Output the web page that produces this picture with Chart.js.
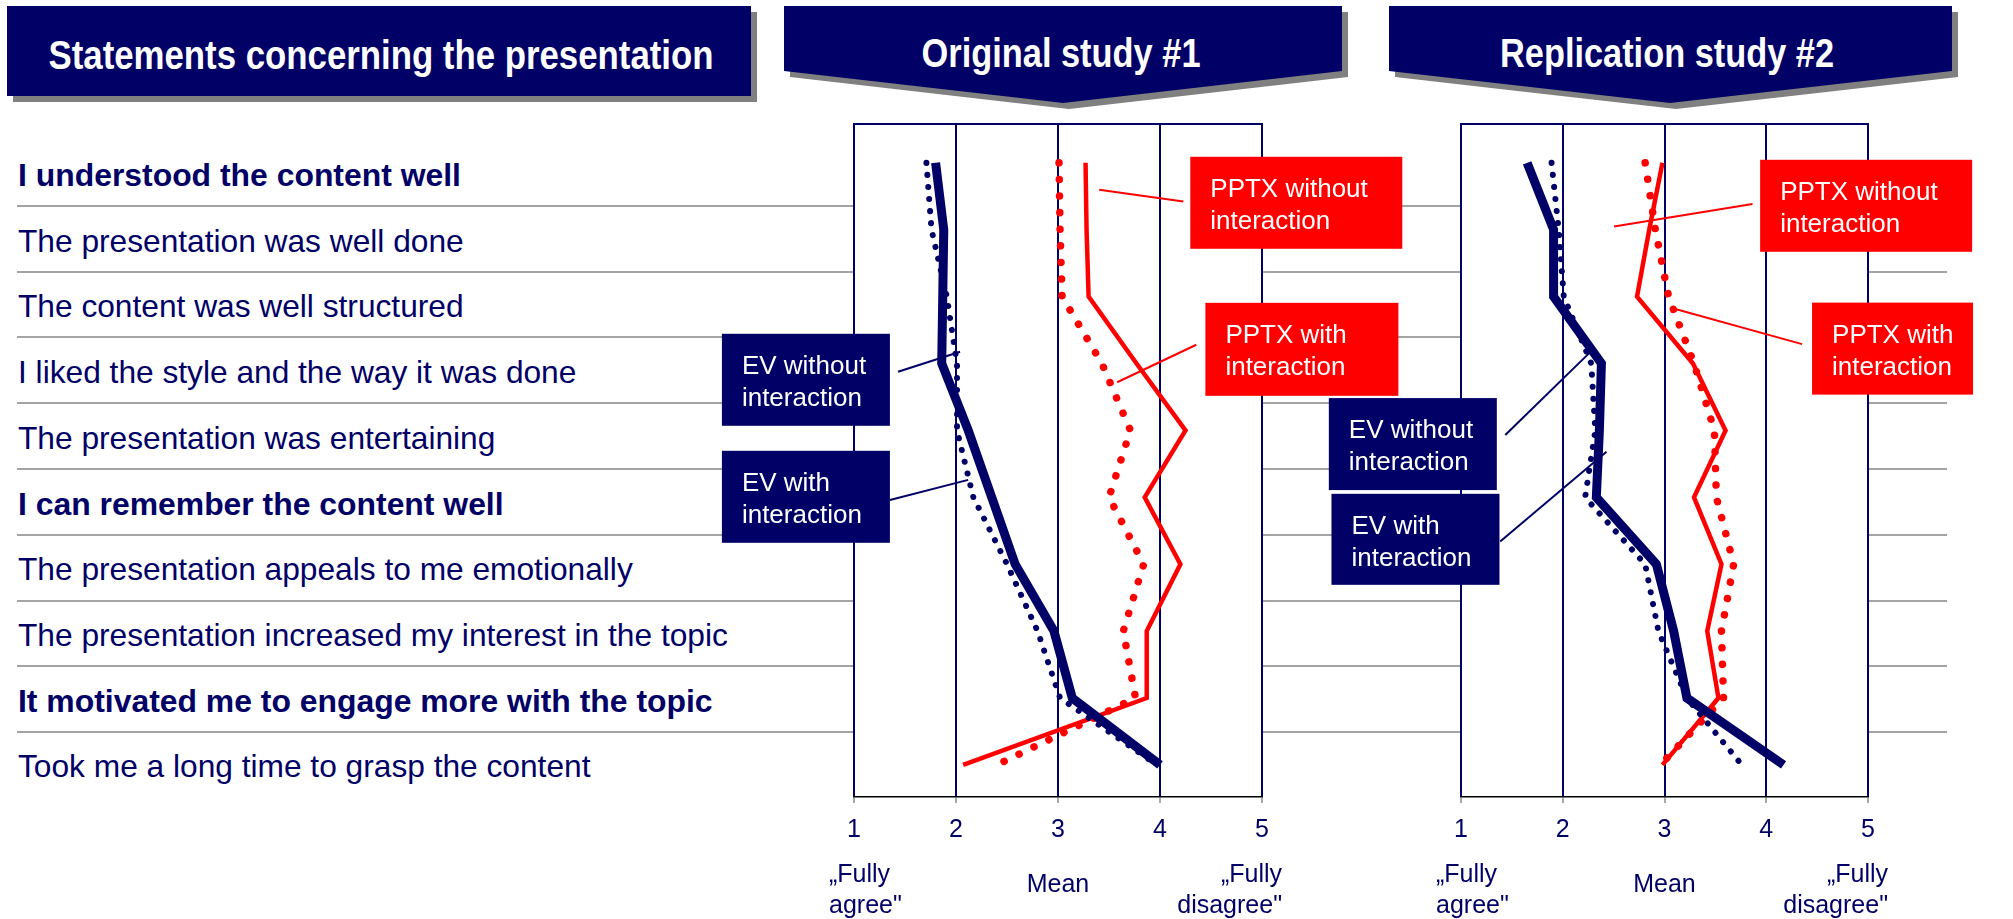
<!DOCTYPE html>
<html>
<head>
<meta charset="utf-8">
<title>Statements concerning the presentation</title>
<script src="https://cdn.jsdelivr.net/npm/chart.js@4.4.0/dist/chart.umd.min.js"></script>
<style>
  html, body { margin: 0; padding: 0; background: #fff; }
  #page { position: relative; width: 2013px; height: 919px; overflow: hidden;
          font-family: "Liberation Sans", Arial, sans-serif; color: #000066; }
  .sep { position: absolute; left: 17px; width: 1930px; height: 2px; background: #a3a3a3; }
  .stmt { position: absolute; left: 18px; font-size: 31.7px; line-height: 32px; white-space: nowrap; }
  .stmt.b { font-weight: bold; font-size: 31.9px; }
  canvas { position: absolute; }
  svg { position: absolute; left: 0; top: 0; }
</style>
</head>
<body>
<div id="page">
  <svg width="2013" height="112" font-family="Liberation Sans, Arial, sans-serif" font-weight="bold" font-size="40">
    <rect x="13" y="12" width="744" height="90" fill="#808080"/>
    <rect x="7" y="6" width="744" height="90" fill="#000066"/>
    <text x="381" y="68.5" fill="#fff" text-anchor="middle" textLength="665" lengthAdjust="spacingAndGlyphs">Statements concerning the presentation</text>

    <polygon points="790,12 1348,12 1348,77 1069,109 790,77" fill="#808080"/>
    <polygon points="784,6 1342,6 1342,71 1063,103 784,71" fill="#000066"/>
    <text x="1061" y="66.5" fill="#fff" text-anchor="middle" textLength="279" lengthAdjust="spacingAndGlyphs">Original study #1</text>

    <polygon points="1395,12 1958,12 1958,77 1676,109 1395,77" fill="#808080"/>
    <polygon points="1389,6 1952,6 1952,71 1670,103 1389,71" fill="#000066"/>
    <text x="1667" y="66.5" fill="#fff" text-anchor="middle" textLength="334" lengthAdjust="spacingAndGlyphs">Replication study #2</text>
  </svg>
  <canvas id="study1" width="720" height="819" style="left:700px;top:100px"></canvas>
  <canvas id="study2" width="703" height="819" style="left:1310px;top:100px"></canvas>
</div>
<script>
// statements, top to bottom (row index 0..9)
const statements = [
  "I understood the content well",
  "The presentation was well done",
  "The content was well structured",
  "I liked the style and the way it was done",
  "The presentation was entertaining",
  "I can remember the content well",
  "The presentation appeals to me emotionally",
  "The presentation increased my interest in the topic",
  "It motivated me to engage more with the topic",
  "Took me a long time to grasp the content"
];
const boldRows = [0, 5, 8];

// scale texts
const lowEnd = ["\u201EFully", "agree\""];
const highEnd = ["\u201EFully", "disagree\""];
const axisTitle = "Mean";

// Original study #1 - mean per statement
const s1EvWithout   = [1.80, 1.88, 1.87, 1.86, 2.12, 2.35, 2.58, 2.96, 3.14, 4.00];
const s1EvWith      = [1.71, 1.76, 1.91, 2.01, 2.01, 2.17, 2.50, 2.80, 3.02, 3.97];
const s1PptxWithout = [3.27, 3.28, 3.30, 3.77, 4.25, 3.85, 4.20, 3.87, 3.87, 2.07];
const s1PptxWith    = [3.01, 3.02, 3.04, 3.43, 3.71, 3.50, 3.84, 3.64, 3.76, 2.40];

// Replication study #2 - mean per statement
const s2EvWithout   = [1.65, 1.91, 1.91, 2.38, 2.36, 2.33, 2.92, 3.09, 3.22, 4.17];
const s2EvWith      = [1.89, 1.96, 2.01, 2.28, 2.32, 2.22, 2.81, 2.94, 3.22, 3.76];
const s2PptxWithout = [2.98, 2.85, 2.73, 3.28, 3.60, 3.29, 3.56, 3.42, 3.53, 2.98];
const s2PptxWith    = [2.81, 2.91, 3.04, 3.29, 3.49, 3.51, 3.68, 3.56, 3.58, 2.96];

const NAVY = "#000066";
const RED = "#ff0000";
const FONT = "Liberation Sans, Arial, sans-serif";

// left column: statement texts and grey separators
const page = document.getElementById("page");
statements.forEach((s, i) => {
  const d = document.createElement("div");
  d.className = "stmt" + (boldRows.includes(i) ? " b" : "");
  d.style.top = (173 + 65.7 * i - 14) + "px";
  d.textContent = s;
  page.insertBefore(d, page.firstChild);
  if (i < statements.length - 1) {
    const l = document.createElement("div");
    l.className = "sep";
    l.style.top = (205.7 + 65.8 * i - 1) + "px";
    page.insertBefore(l, page.firstChild);
  }
});

// white plot area + top frame line
const framePlugin = {
  id: "frame",
  beforeDraw(chart) {
    const a = chart.chartArea, ctx = chart.ctx;
    ctx.save();
    ctx.fillStyle = "#fff";
    ctx.fillRect(a.left, a.top, a.right - a.left, a.bottom - a.top);
    ctx.restore();
  },
  afterDraw(chart) {
    const a = chart.chartArea, ctx = chart.ctx;
    ctx.save();
    ctx.strokeStyle = NAVY;
    ctx.lineWidth = 2;
    ctx.beginPath();
    ctx.moveTo(a.left - 1, a.top);
    ctx.lineTo(a.right + 1, a.top);
    ctx.stroke();
    ctx.restore();
  }
};

// "Fully agree" / "Mean" / "Fully disagree" under the axis
const scaleNotesPlugin = {
  id: "scaleNotes",
  afterDraw(chart) {
    const x = chart.scales.x, b = chart.chartArea.bottom, ctx = chart.ctx;
    ctx.save();
    ctx.font = "25px " + FONT;
    ctx.fillStyle = NAVY;
    ctx.textBaseline = "middle";
    ctx.textAlign = "left";
    ctx.fillText(lowEnd[0], x.getPixelForValue(1) - 25, b + 78);
    ctx.fillText(lowEnd[1], x.getPixelForValue(1) - 25, b + 109);
    ctx.textAlign = "right";
    ctx.fillText(highEnd[0], x.getPixelForValue(5) + 20, b + 78);
    ctx.fillText(highEnd[1], x.getPixelForValue(5) + 20, b + 109);
    ctx.textAlign = "center";
    ctx.fillText(axisTitle, x.getPixelForValue(3), b + 88);
    ctx.restore();
  }
};

// labelled boxes with leader lines
const calloutPlugin = {
  id: "callouts",
  afterDatasetsDraw(chart, args, opts) {
    const x = chart.scales.x, y = chart.scales.y, ctx = chart.ctx;
    ctx.save();
    (opts.items || []).forEach(c => {
      ctx.strokeStyle = c.color;
      ctx.lineWidth = 2;
      ctx.beginPath();
      ctx.moveTo(x.getPixelForValue(c.from[0]), y.getPixelForValue(c.from[1]));
      ctx.lineTo(x.getPixelForValue(c.to[0]), y.getPixelForValue(c.to[1]));
      ctx.stroke();
      const bx = x.getPixelForValue(c.at[0]), by = y.getPixelForValue(c.at[1]);
      ctx.fillStyle = c.color;
      ctx.fillRect(bx, by, c.w, c.h);
      ctx.fillStyle = "#fff";
      ctx.font = "26px " + FONT;
      ctx.textAlign = "left";
      ctx.textBaseline = "alphabetic";
      c.text.forEach((t, i) => ctx.fillText(t, bx + 20, by + 40 + 32 * i));
    });
    ctx.restore();
  }
};

function series(label, values, style) {
  return Object.assign({
    label: label,
    data: values.map((v, i) => ({ x: v, y: i })),
    showLine: true,
    pointRadius: 0,
    tension: 0,
    fill: false
  }, style);
}

const solidNavy  = { borderColor: NAVY, borderWidth: 9, borderCapStyle: "butt", borderJoinStyle: "miter", order: 1 };
const dottedNavy = { borderColor: NAVY, borderWidth: 6, borderDash: [0.1, 12], borderCapStyle: "round", borderJoinStyle: "round", order: 2 };
const solidRed   = { borderColor: RED, borderWidth: 4.5, borderCapStyle: "butt", borderJoinStyle: "miter", order: 3 };
const dottedRed  = { borderColor: RED, borderWidth: 7.5, borderDash: [0.1, 16.5], borderCapStyle: "round", borderJoinStyle: "round", order: 4 };

function makeChart(id, padding, sets, callouts) {
  return new Chart(document.getElementById(id), {
    type: "scatter",
    data: {
      datasets: [
        series("EV without interaction", sets[0], solidNavy),
        series("EV with interaction", sets[1], dottedNavy),
        series("PPTX without interaction", sets[2], solidRed),
        series("PPTX with interaction", sets[3], dottedRed)
      ]
    },
    options: {
      responsive: false,
      animation: false,
      events: [],
      layout: { padding: padding },
      plugins: {
        legend: { display: false },
        tooltip: { enabled: false },
        callouts: { items: callouts }
      },
      scales: {
        x: {
          type: "linear", min: 1, max: 5,
          afterFit: s => { s.height = 40; },
          ticks: { stepSize: 1, color: NAVY, font: { family: FONT, size: 25 }, padding: 12 },
          grid: { color: NAVY, lineWidth: 2, tickColor: "#8c8c8c", tickLength: 6, tickWidth: 1.5 },
          border: { display: true, color: "#000", width: 1.5 }
        },
        y: { type: "linear", reverse: true, min: -0.58, max: 9.48, display: false }
      }
    },
    plugins: [framePlugin, scaleNotesPlugin, calloutPlugin]
  });
}

makeChart("study1", { left: 154, right: 158, top: 24, bottom: 82 },
  [s1EvWithout, s1EvWith, s1PptxWithout, s1PptxWith],
  [
    { text: ["PPTX without", "interaction"], color: RED,  at: [4.297, -0.09], w: 212, h: 92, from: [4.229, 0.579], to: [3.404, 0.404] },
    { text: ["PPTX with", "interaction"],    color: RED,  at: [4.445, 2.093], w: 193, h: 93, from: [4.356, 2.72],  to: [3.58, 3.28] },
    { text: ["EV without", "interaction"],   color: NAVY, at: [-0.295, 2.556], w: 168, h: 92, from: [1.432, 3.124], to: [2.04, 2.825] },
    { text: ["EV with", "interaction"],      color: NAVY, at: [-0.295, 4.305], w: 168, h: 92, from: [1.353, 5.04],  to: [2.119, 4.74] }
  ]);

makeChart("study2", { left: 151, right: 145, top: 24, bottom: 82 },
  [s2EvWithout, s2EvWith, s2PptxWithout, s2PptxWith],
  [
    { text: ["PPTX without", "interaction"], color: RED,  at: [3.94, -0.045], w: 212, h: 92, from: [3.865, 0.617], to: [2.504, 0.952] },
    { text: ["PPTX with", "interaction"],    color: RED,  at: [4.45, 2.09],   w: 161, h: 92, from: [4.352, 2.71],  to: [3.071, 2.17] },
    { text: ["EV without", "interaction"],   color: NAVY, at: [-0.299, 3.517], w: 168, h: 92, from: [1.435, 4.07], to: [2.27, 2.83] },
    { text: ["EV with", "interaction"],      color: NAVY, at: [-0.273, 4.948], w: 168, h: 91, from: [1.385, 5.66], to: [2.43, 4.32] }
  ]);
</script>
</body>
</html>
